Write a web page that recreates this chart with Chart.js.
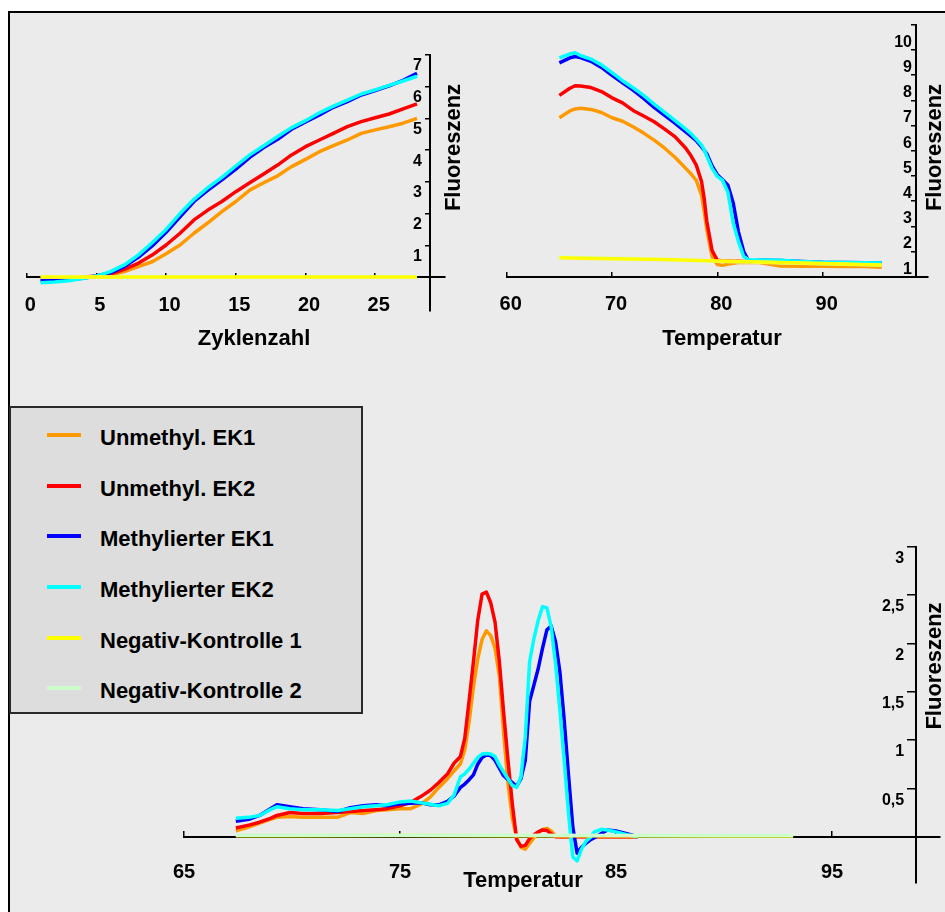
<!DOCTYPE html>
<html><head><meta charset="utf-8">
<script src="https://cdn.jsdelivr.net/npm/chart.js@4.4.0/dist/chart.umd.min.js"></script>
<style>
html,body{margin:0;padding:0;background:#fff;}
#page{position:relative;width:945px;height:912px;overflow:hidden;background:#fff;}
#frame{position:absolute;left:8px;top:11px;width:960px;height:920px;background:#EBEBEB;border-top:2px solid #000;border-left:2px solid #000;}
canvas{position:absolute;left:0;top:0;}
#legend{position:absolute;left:9px;top:406px;width:354px;height:308px;box-sizing:border-box;background:#DDDDDD;border:2px solid #2a2a2a;}
.lrow{position:absolute;left:0;width:340px;height:22px;}
.lsw{position:absolute;left:36px;top:8px;width:34px;height:4px;}
.ltx{position:absolute;left:89px;top:2px;font:bold 22px "Liberation Sans", Arial, sans-serif;line-height:22px;color:#000;white-space:nowrap;}
</style>
</head>
<body>
<div id="page">
  <div id="frame"></div>
  <div id="legend"></div>
  <canvas id="cA" width="945" height="912"></canvas>
  <canvas id="cB" width="945" height="912"></canvas>
  <canvas id="cC" width="945" height="912"></canvas>
</div>
<script>
// ---------- series ----------
const seriesNames  = ['Unmethyl. EK1','Unmethyl. EK2','Methylierter EK1','Methylierter EK2','Negativ-Kontrolle 1','Negativ-Kontrolle 2'];
const seriesColors = ['#FF9900','#FF0000','#0000FF','#00FFFF','#FFFF00','#CCFFCC'];

// ---------- chart A: amplification (Zyklenzahl) ----------
const cyclesA = [1,2,3,4,5,6,7,8,9,10,11,12,13,14,15,16,17,18,19,20,21,22,23,24,25,26,27,28];
const ampUnmethylEK1 = [-0.04,-0.03,-0.02,-0.01,0.01,0.06,0.17,0.33,0.48,0.73,1.01,1.38,1.71,2.06,2.38,2.74,2.97,3.19,3.48,3.71,3.95,4.14,4.32,4.53,4.64,4.74,4.85,5.0];
const ampUnmethylEK2 = [-0.09,-0.07,-0.04,-0.01,0.03,0.09,0.24,0.43,0.69,1.01,1.38,1.8,2.11,2.38,2.69,2.97,3.25,3.53,3.85,4.11,4.32,4.53,4.74,4.9,5.02,5.14,5.3,5.46];
const ampMethylEK1   = [-0.12,-0.11,-0.09,-0.04,0.03,0.13,0.33,0.62,0.98,1.41,1.9,2.38,2.74,3.06,3.4,3.77,4.08,4.34,4.66,4.89,5.11,5.35,5.53,5.74,5.88,6.03,6.2,6.42];
const ampMethylEK2   = [-0.18,-0.16,-0.12,-0.05,0.03,0.17,0.38,0.69,1.08,1.5,2.0,2.45,2.82,3.14,3.5,3.85,4.14,4.43,4.71,4.93,5.18,5.39,5.58,5.77,5.9,6.04,6.18,6.33];
const negCyclesA = [1,28];
const ampNeg1 = [0,0];
const ampNeg2 = [0,0];
const xTicksA = [0,5,10,15,20,25];
const yTicksA = [0,1,2,3,4,5,6,7];

// ---------- chart B: melting curve (Temperatur) ----------
const tempsB = [65,66,66.5,67,68,69,70,71,72,73,74,75,76,77,77.5,78,78.5,78.75,79,79.5,80,80.5,81,81.5,82,82.5,83,84,86,88,90,92,94,95.6];
const meltUnmethylEK1 = [7.31,7.58,7.66,7.69,7.64,7.52,7.31,7.17,6.95,6.7,6.42,6.1,5.73,5.3,5.08,4.82,4.24,3.6,2.86,1.8,1.48,1.45,1.5,1.53,1.56,1.56,1.56,1.56,1.42,1.41,1.41,1.4,1.4,1.38];
const meltUnmethylEK2 = [8.2,8.48,8.58,8.57,8.51,8.35,8.1,7.9,7.6,7.38,7.15,6.86,6.55,6.1,5.8,5.43,4.78,4.1,3.19,2.04,1.65,1.62,1.62,1.61,1.61,1.6,1.6,1.59,1.58,1.55,1.53,1.5,1.47,1.45];
const meltMethylEK1   = [9.49,9.69,9.74,9.7,9.55,9.31,8.99,8.7,8.41,8.08,7.72,7.4,7.09,6.75,6.58,6.4,6.15,6.02,5.88,5.4,5.05,4.85,4.63,3.94,2.78,2.0,1.6,1.65,1.64,1.6,1.57,1.56,1.55,1.54];
const meltMethylEK2   = [9.69,9.84,9.89,9.78,9.64,9.41,9.1,8.78,8.5,8.2,7.85,7.52,7.2,6.86,6.68,6.46,6.22,6.05,5.79,5.3,4.98,4.82,4.35,3.14,2.4,1.8,1.66,1.66,1.65,1.6,1.57,1.56,1.55,1.54];
const negTempsB = [65,67,70,75,80,85,90,95.6];
const meltNeg1 = [1.75,1.73,1.71,1.68,1.62,1.57,1.52,1.46];
const meltNeg2 = [1.78,1.76,1.73,1.68,1.61,1.56,1.51,1.45];
const xTicksB = [60,70,80,90];
const yTicksB = [1,2,3,4,5,6,7,8,9,10,11];

// ---------- chart C: derivative melting peaks ----------
const tempsC = [67.4,68,68.5,69,69.3,69.9,70.5,71.3,72.1,72.7,73.3,73.9,74.4,75,75.5,76,76.4,76.8,77.2,77.5,77.8,78,78.2,78.4,78.6,78.8,79,79.2,79.4,79.6,79.8,80,80.2,80.4,80.6,80.8,81,81.2,81.4,81.6,81.8,82,82.2,82.4,82.6,82.8,83,83.2,83.4,83.6,83.8,84,84.3,84.6,85,85.5,86];
const peakUnmethylEK1 = [0.06,0.10,0.14,0.18,0.20,0.21,0.20,0.20,0.20,0.25,0.24,0.27,0.28,0.29,0.29,0.34,0.41,0.51,0.60,0.68,0.755,0.90,1.19,1.55,1.84,2.04,2.13,2.08,1.95,1.66,1.07,0.55,0.19,-0.01,-0.11,-0.13,-0.07,-0.01,0.04,0.076,0.086,0.06,0.01,0,0,0,0,0,0,0,0,0,0,0,0,0,0];
const peakUnmethylEK2 = [0.09,0.12,0.15,0.19,0.22,0.25,0.24,0.24,0.25,0.26,0.27,0.28,0.29,0.32,0.355,0.42,0.48,0.56,0.65,0.76,0.83,1.02,1.41,1.81,2.24,2.51,2.53,2.42,2.22,1.81,1.28,0.79,0.34,-0.03,-0.10,-0.09,-0.02,0.02,0.05,0.07,0.065,0.03,0,0,0,0,0,0,0,0,0,0,0,0,0,0,0];
const peakMethylEK1   = [0.16,0.18,0.22,0.29,0.33,0.31,0.29,0.28,0.26,0.30,0.32,0.33,0.32,0.34,0.345,0.35,0.33,0.33,0.365,0.42,0.51,0.545,0.59,0.64,0.75,0.82,0.845,0.84,0.79,0.71,0.63,0.59,0.56,0.52,0.60,0.79,1.40,1.57,1.74,1.95,2.14,2.18,2.02,1.71,1.21,0.64,0.10,-0.17,-0.11,-0.07,-0.035,-0.01,0.03,0.07,0.06,0.03,0];
const peakMethylEK2   = [0.19,0.20,0.22,0.28,0.31,0.29,0.28,0.28,0.27,0.29,0.31,0.32,0.33,0.36,0.37,0.35,0.335,0.32,0.345,0.43,0.62,0.65,0.70,0.76,0.82,0.855,0.86,0.855,0.83,0.74,0.67,0.60,0.53,0.51,0.62,1.03,1.81,2.05,2.24,2.38,2.37,2.17,1.79,1.31,0.79,0.24,-0.21,-0.25,-0.13,-0.05,-0.01,0.05,0.076,0.07,0.05,0.02,0];
const negTempsC = [67.4,70,75,80,85,90,93.2];
const peakNeg1 = [0.01,0.01,0.012,0.01,0.01,0.008,0.008];
const peakNeg2 = [0.015,0.015,0.014,0.014,0.013,0.013,0.013];
const xTicksC = [65,75,85,95];
const yTicksC = [0,0.5,1,1.5,2,2.5,3];

// ---------- helpers ----------
const FONT = '"Liberation Sans", Arial, Helvetica, sans-serif';
const pts = (xs, ys) => xs.map((x, i) => ({x: x, y: ys[i]}));

function ds(idx, xs, ys, order) {
  return {
    label: seriesNames[idx], data: pts(xs, ys),
    borderColor: seriesColors[idx], backgroundColor: seriesColors[idx],
    borderWidth: 3.5, pointRadius: 0, tension: 0, fill: false,
    borderJoinStyle: 'round', order: order
  };
}

function xAxis(o) {
  return {
    type: 'linear', min: o.min, max: o.max, position: {y: o.cross},
    afterFit: s => { s.height = 0; },
    afterBuildTicks: s => { s.ticks = o.ticks.map(v => ({value: v})); },
    grid: {drawOnChartArea: false, drawTicks: true, tickLength: o.tl, color: '#000', lineWidth: 1.5},
    border: {display: true, color: '#000', width: 2},
    ticks: {color: '#000', font: {family: FONT, size: 20, weight: 'bold'}, padding: o.pad,
            labelOffset: o.lo, autoSkip: false, maxRotation: 0, minRotation: 0,
            callback: v => String(v)}
  };
}
// y labels are right-aligned on the axis line; a trailing gap string keeps them off it
function yAxis(o) {
  return {
    type: 'linear', min: o.min, max: o.max, position: {x: o.at},
    afterFit: s => { s.width = 0; },
    afterBuildTicks: s => { s.ticks = o.ticks.map(v => ({value: v})); },
    grid: {drawOnChartArea: false, drawTicks: true, tickLength: o.tl, color: '#000', lineWidth: 1.5},
    border: {display: true, color: '#000', width: 2},
    ticks: {color: '#000', font: {family: FONT, size: 16, weight: 'bold'}, padding: 0,
            labelOffset: o.lo, autoSkip: false,
            callback: v => { const t = o.fmt(v); return t === '' ? '' : t + o.gap; }}
  };
}

const freeTitles = {
  id: 'freeTitles',
  afterDraw(chart, args, opts) {
    const ctx = chart.ctx;
    (opts.items || []).forEach(t => {
      ctx.save();
      ctx.font = 'bold 22px ' + FONT;
      ctx.fillStyle = '#000';
      ctx.textAlign = 'center';
      ctx.textBaseline = 'middle';
      ctx.translate(t.x, t.y);
      ctx.rotate(t.rot || 0);
      ctx.fillText(t.text, 0, 0);
      ctx.restore();
    });
  }
};

function baseOptions(padding, titles, scales) {
  return {
    responsive: false, animation: false, devicePixelRatio: 1,
    layout: {padding: padding},
    plugins: {legend: {display: false}, tooltip: {enabled: false}, title: {display: false},
              freeTitles: {items: titles}},
    scales: scales
  };
}

// ---------- Chart A ----------
new Chart(document.getElementById('cA'), {
  type: 'line',
  data: {datasets: [
    ds(0, cyclesA, ampUnmethylEK1, 6),
    ds(1, cyclesA, ampUnmethylEK2, 5),
    ds(2, cyclesA, ampMethylEK1, 4),
    ds(3, cyclesA, ampMethylEK2, 3),
    ds(5, negCyclesA, ampNeg2, 2),
    ds(4, negCyclesA, ampNeg1, 1)
  ]},
  options: baseOptions({left: 26.7, top: 55, right: 500.1, bottom: 601.7},
    [{text: 'Zyklenzahl', x: 254, y: 339}, {text: 'Fluoreszenz', x: 454, y: 147.5, rot: -Math.PI / 2}],
    {
      x: xAxis({min: 0, max: 30, cross: 0, ticks: xTicksA, tl: -5, pad: 21, lo: 3.5}),
      y: yAxis({min: -1.05, max: 7, at: 28.9, ticks: yTicksA, tl: 4, lo: 11, gap: ' \u2009',
                fmt: v => (v === 0 ? '' : String(v))})
    }),
  plugins: [freeTitles]
});

// ---------- Chart B ----------
new Chart(document.getElementById('cB'), {
  type: 'line',
  data: {datasets: [
    ds(0, tempsB, meltUnmethylEK1, 6),
    ds(1, tempsB, meltUnmethylEK2, 5),
    ds(2, tempsB, meltMethylEK1, 4),
    ds(3, tempsB, meltMethylEK2, 3),
    ds(5, negTempsB, meltNeg2, 2),
    ds(4, negTempsB, meltNeg1, 1)
  ]},
  options: baseOptions({left: 506.7, top: 24.8, right: 17, bottom: 635.3},
    [{text: 'Temperatur', x: 722, y: 339}, {text: 'Fluoreszenz', x: 934.7, y: 147.5, rot: -Math.PI / 2}],
    {
      x: xAxis({min: 60, max: 100, cross: 1, ticks: xTicksB, tl: -6, pad: 22, lo: 4}),
      y: yAxis({min: 1, max: 11, at: 98.9, ticks: yTicksB, tl: 4, lo: -7.5, gap: ' ',
                fmt: v => (v === 11 ? '' : String(v))})
    }),
  plugins: [freeTitles]
});

// ---------- Chart C ----------
new Chart(document.getElementById('cC'), {
  type: 'line',
  data: {datasets: [
    ds(0, tempsC, peakUnmethylEK1, 6),
    ds(1, tempsC, peakUnmethylEK2, 5),
    ds(2, tempsC, peakMethylEK1, 4),
    ds(3, tempsC, peakMethylEK2, 3),
    ds(4, negTempsC, peakNeg1, 2),
    ds(5, negTempsC, peakNeg2, 1)
  ]},
  options: baseOptions({left: 184, top: 546.7, right: 5, bottom: 28.9},
    [{text: 'Temperatur', x: 523, y: 881}, {text: 'Fluoreszenz', x: 935, y: 666, rot: -Math.PI / 2}],
    {
      x: xAxis({min: 65, max: 100, cross: 0, ticks: xTicksC, tl: -7, pad: 31, lo: 0}),
      y: yAxis({min: -0.48, max: 3, at: 98.9, ticks: yTicksC, tl: 8, lo: 12, gap: '  \u2009',
                fmt: v => (v === 0 ? '' : String(v).replace('.', ','))})
    }),
  plugins: [freeTitles]
});

// ---------- HTML legend (from the series arrays) ----------
const legendEl = document.getElementById('legend');
seriesNames.forEach((name, i) => {
  const row = document.createElement('div');
  row.className = 'lrow';
  row.style.top = (16.8 + i * 50.7) + 'px';
  const sw = document.createElement('span');
  sw.className = 'lsw';
  sw.style.background = seriesColors[i];
  const tx = document.createElement('span');
  tx.className = 'ltx';
  tx.textContent = name;
  row.appendChild(sw); row.appendChild(tx);
  legendEl.appendChild(row);
});
</script>
</body></html>
